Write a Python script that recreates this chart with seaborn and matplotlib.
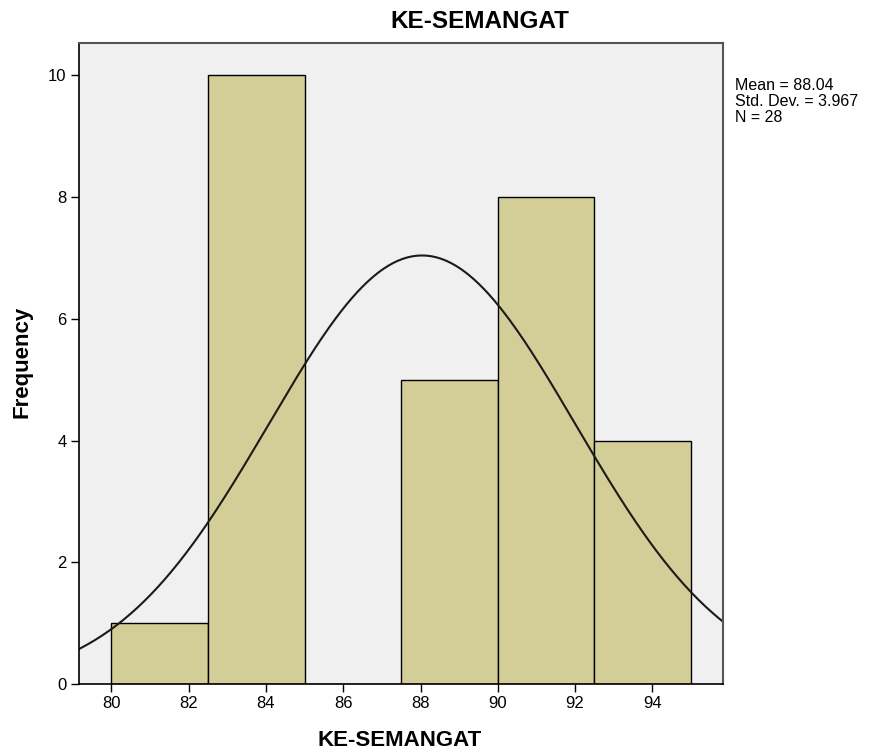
import numpy as np
import pandas as pd
import matplotlib
matplotlib.use("Agg")
import matplotlib.pyplot as plt
import seaborn as sns

# Data
bin_edges = [80.0, 82.5, 85.0, 87.5, 90.0, 92.5, 95.0]
counts = [1, 10, 0, 5, 8, 4]
mean_val = 88.04
std_val = 3.967
n_val = 28
x_ticks = [80, 82, 84, 86, 88, 90, 92, 94]
y_ticks = [0, 2, 4, 6, 8, 10]
stats_lines = ["Mean = 88.04", "Std. Dev. = 3.967", "N = 28"]

sns.set_theme(style="white")
plt.rcParams['font.family'] = ['Liberation Sans', 'DejaVu Sans']
plt.rcParams['text.color'] = 'black'

fig = plt.figure(figsize=(8.7, 7.55), dpi=100)
ax = fig.add_axes([79/870, 1-684/755, (723-79)/870, (684-43)/755])
ax.set_facecolor("#F0F0F0")

centers = [(bin_edges[i] + bin_edges[i+1]) / 2 for i in range(len(counts))]
df = pd.DataFrame({"x": centers, "w": counts})
sns.histplot(data=df, x="x", weights="w", bins=bin_edges, ax=ax,
             color="#D3CE97", alpha=1.0, edgecolor="black", linewidth=1.0)

# Normal curve from the stated statistics
bw = bin_edges[1] - bin_edges[0]
xs = np.linspace(78.5, 96.5, 400)
ys = n_val * bw / (std_val * np.sqrt(2 * np.pi)) * np.exp(-0.5 * ((xs - mean_val) / std_val) ** 2)
sns.lineplot(x=xs, y=ys, ax=ax, color="#1a1a1a", linewidth=1.5)

ax.set_xlim(79.16, 95.83)
ax.set_ylim(0, 10.53)
ax.set_xticks(x_ticks)
ax.set_yticks(y_ticks)
ax.tick_params(axis="both", which="both", direction="out", length=6, width=1,
               color="black", labelsize=12, labelcolor="black", pad=3)
ax.tick_params(bottom=True, left=True)

for s in ["left", "bottom"]:
    ax.spines[s].set_color("black")
    ax.spines[s].set_linewidth(1.2)
for s in ["top", "right"]:
    ax.spines[s].set_color("#555555")
    ax.spines[s].set_linewidth(1.5)

ax.set_xlabel("")
ax.set_ylabel("")
fig.text(400/870, 1-741/755, "KE-SEMANGAT", ha="center", va="center",
         fontsize=16, fontweight="bold", color="black")
fig.text(22/870, 1-362/755, "Frequency", ha="center", va="center",
         rotation=90, fontsize=16, fontweight="bold", color="black")

fig.text(480/870, 1-22/755, "KE-SEMANGAT", ha="center", va="center",
         fontsize=17.5, fontweight="bold", color="black")

for i, line in enumerate(stats_lines):
    fig.text(735/870, 1-(86 + 16*i)/755, line, ha="left", va="center",
             fontsize=11.5, color="black")

fig.savefig("out.png", dpi=100)
